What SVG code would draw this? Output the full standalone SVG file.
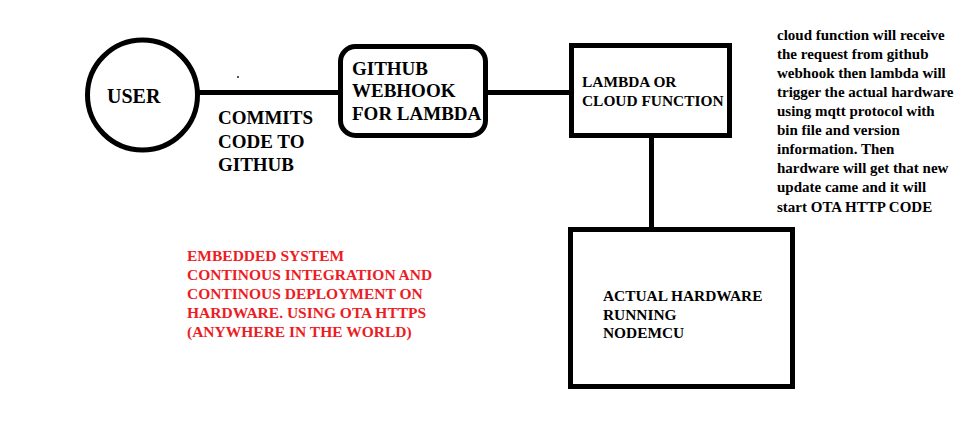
<svg xmlns="http://www.w3.org/2000/svg" width="969" height="428" viewBox="0 0 969 428" font-family="'Liberation Serif', serif" font-weight="bold">
<style>
.shape{fill:#fff;stroke:#000;stroke-width:5}
.wire{stroke:#000;stroke-width:5;fill:none}
text{font-family:'Liberation Serif',serif;font-weight:700;fill:#000}
.big{font-size:19px}
.mid{font-size:15px}
.box{font-size:15.4px}
.red{font-size:15.5px;fill:#ed1c24}
</style>
<rect width="969" height="428" fill="#fff"/>
<g id="connectors">
<line class="wire" x1="198" y1="92.5" x2="340" y2="92.5"/>
<line class="wire" x1="486" y1="92.5" x2="572" y2="92.5"/>
<line class="wire" x1="651.5" y1="137" x2="651.5" y2="229"/>
</g>
<rect x="237" y="76" width="2" height="2" fill="#555"/>
<g id="user">
<circle class="shape" cx="142.5" cy="95" r="55"/>
<text x="107" y="103" font-size="20">USER</text>
</g>
<g id="commits-label">
<text class="big" x="218" y="124">COMMITS</text>
<text class="big" x="218" y="147.5">CODE TO</text>
<text class="big" x="218" y="170.5">GITHUB</text>
</g>
<g id="webhook">
<rect class="shape" x="340.5" y="46.5" width="145" height="89" rx="15" ry="15"/>
<text class="big" x="352" y="75">GITHUB</text>
<text class="big" x="352" y="97">WEBHOOK</text>
<text class="big" x="352" y="120">FOR LAMBDA</text>
</g>
<g id="lambda">
<rect class="shape" x="571.5" y="45.5" width="158" height="90"/>
<text class="box" x="582" y="87">LAMBDA OR</text>
<text class="box" x="582" y="105.5">CLOUD FUNCTION</text>
</g>
<g id="hardware">
<rect class="shape" x="570.5" y="229.5" width="222" height="157"/>
<text class="box" x="603" y="301">ACTUAL HARDWARE</text>
<text class="box" x="603" y="319.5">RUNNING</text>
<text class="box" x="603" y="338">NODEMCU</text>
</g>
<g id="description">
<text class="mid" x="777" y="40">cloud function will receive</text>
<text class="mid" x="777" y="59">the request from github</text>
<text class="mid" x="777" y="78">webhook then lambda will</text>
<text class="mid" x="777" y="97">trigger the actual hardware</text>
<text class="mid" x="777" y="116">using mqtt protocol with</text>
<text class="mid" x="777" y="135">bin file and version</text>
<text class="mid" x="777" y="154">information. Then</text>
<text class="mid" x="777" y="173">hardware will get that new</text>
<text class="mid" x="777" y="192">update came and it will</text>
<text class="mid" x="777" y="211.5">start OTA HTTP CODE</text>
</g>
<g id="title">
<text class="red" x="187" y="261">EMBEDDED SYSTEM</text>
<text class="red" x="187" y="280">CONTINOUS INTEGRATION AND</text>
<text class="red" x="187" y="299">CONTINOUS DEPLOYMENT ON</text>
<text class="red" x="187" y="318">HARDWARE. USING OTA HTTPS</text>
<text class="red" x="187" y="337">(ANYWHERE IN THE WORLD)</text>
</g>
</svg>
